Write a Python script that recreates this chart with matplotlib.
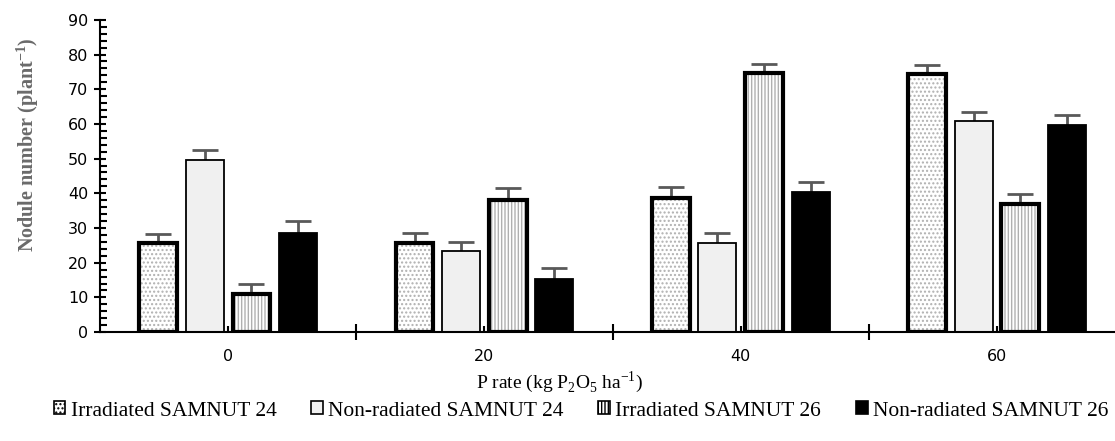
import matplotlib.pyplot as plt
import matplotlib.patches as mpatches
from matplotlib.ticker import MultipleLocator
import numpy as np

rates = ["0", "20", "40", "60"]
series = ["Irradiated SAMNUT 24", "Non-radiated SAMNUT 24",
          "Irradiated SAMNUT 26", "Non-radiated SAMNUT 26"]
irr_24 = [25.6, 25.8, 38.6, 74.3]
non_24 = [49.6, 23.4, 25.6, 60.9]
irr_26 = [11.0, 38.0, 74.6, 37.0]
non_26 = [28.6, 15.4, 40.3, 59.6]
err_irr_24 = [2.6, 2.8, 3.2, 2.8]
err_non_24 = [2.9, 2.7, 2.9, 2.4]
err_irr_26 = [2.8, 3.6, 2.7, 2.8]
err_non_26 = [3.5, 3.2, 3.1, 3.1]

values = [irr_24, non_24, irr_26, non_26]
errors = [err_irr_24, err_non_24, err_irr_26, err_non_26]

serif = "Liberation Serif"
plt.rcParams['hatch.linewidth'] = 1.0
plt.rcParams['mathtext.fontset'] = 'custom'
plt.rcParams['mathtext.rm'] = serif
plt.rcParams['mathtext.bf'] = serif + ":bold"

fig = plt.figure(figsize=(11.15, 4.41), dpi=100)
ax = fig.add_axes([0.0897, 0.247, 0.9103, 0.708])

x = np.arange(len(rates))
step = 0.182
width = 0.148
offsets = (np.arange(4) - 1.5) * step

fills = ["white", "#f0f0f0", "white", "black"]
hatches = ["....", None, "|||||", None]
hatch_cols = ["#b0b0b0", None, "#b0b0b0", None]
edge_w = [3, 1.3, 3, 1.3]

for i in range(4):
    xs = x + offsets[i]
    # error bars sit behind the bars so only the upper half shows
    ax.errorbar(xs, values[i], yerr=errors[i], fmt="none",
                ecolor="#595959", elinewidth=2, capsize=9.5, capthick=2, zorder=1)
    ax.bar(xs, values[i], width, color=fills[i], linewidth=0, zorder=2)
    if hatches[i]:
        ax.bar(xs, values[i], width, fill=False, hatch=hatches[i],
               edgecolor=hatch_cols[i], linewidth=0, zorder=3)
    ax.bar(xs, values[i], width, fill=False, edgecolor="black",
           linewidth=edge_w[i], zorder=4)

ax.set_xlim(-0.5, 3.46)
ax.set_ylim(0, 90)
ax.spines["top"].set_visible(False)
ax.spines["right"].set_visible(False)
ax.spines["left"].set_linewidth(1.5)
ax.spines["bottom"].set_linewidth(1.5)

ax.yaxis.set_major_locator(MultipleLocator(10))
ax.yaxis.set_minor_locator(MultipleLocator(2))
ax.tick_params(axis="y", which="major", direction="inout", length=9, width=1.5,
               labelsize=11.5, pad=4)
ax.tick_params(axis="y", which="minor", direction="in", length=5, width=1.5)

ax.set_xticks(x)
ax.set_xticklabels(rates)
ax.set_xticks([0.5, 1.5, 2.5], minor=True)
ax.tick_params(axis="x", which="major", direction="in", length=4, width=1.5,
               labelsize=11.5, pad=12)
ax.tick_params(axis="x", which="minor", direction="inout", length=12, width=1.5)

ax.set_ylabel(r"Nodule number (plant$\mathbf{^{-1}}$)", fontfamily=serif, fontsize=14.5,
              fontweight="bold", color="#6a6a6a")
ax.yaxis.set_label_coords(-0.058, 0.60)
ax.set_xlabel("P rate (kg P$_2$O$_5$ ha$^{-1}$)", fontfamily=serif, fontsize=14)
ax.xaxis.set_label_coords(0.453, -0.118)

handles = []
for i in range(4):
    handles.append(mpatches.Patch(facecolor=fills[i], edgecolor="black",
                                  hatch=hatches[i], linewidth=1.2))
leg = fig.legend(handles, series, loc="center", bbox_to_anchor=(0.521, 0.068),
                 ncol=4, frameon=False, prop={"family": serif, "size": 15.5},
                 handlelength=0.55, handleheight=0.55, handletextpad=0.25,
                 columnspacing=1.6)

plt.savefig("out.png", dpi=100)
